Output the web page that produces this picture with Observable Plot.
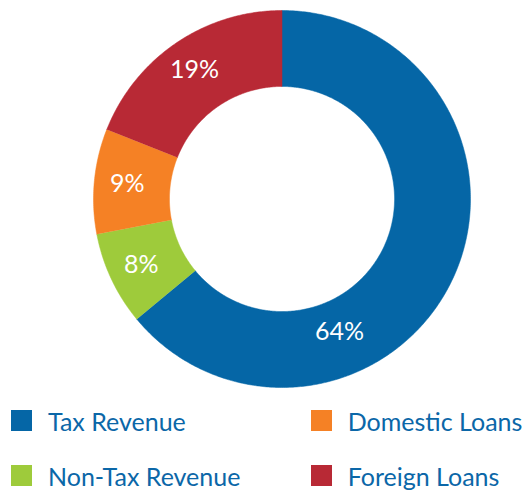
<!DOCTYPE html>
<html>
<head>
<meta charset="utf-8">
<script src="https://cdn.jsdelivr.net/npm/d3@7"></script>
<script src="https://cdn.jsdelivr.net/npm/@observablehq/plot@0.6"></script>
<style>
  html, body { margin: 0; padding: 0; background: #fff; }
  #chart svg { display: block; }
  .legend {
    display: grid;
    grid-template-columns: 299.7px 1fr;
    grid-auto-rows: 55px;
    padding-left: 11px;
    font-family: Lato, "Open Sans", sans-serif;
    font-size: 25px;
    color: #0b67a8;
  }
  .legend .item { display: flex; align-items: center; white-space: nowrap; }
  .legend .sw { width: 21px; height: 21px; margin-right: 16px; flex: none; }
</style>
</head>
<body>
<div id="chart"></div>
<script>
// ---- data ----
const categories = ["Tax Revenue", "Non-Tax Revenue", "Domestic Loans", "Foreign Loans"];
const shares = [64, 8, 9, 19];
const shareLabels = ["64%", "8%", "9%", "19%"];
const colors = ["#0566a6", "#9ecb3b", "#f58125", "#b82935"];
const legendOrder = ["Tax Revenue", "Domestic Loans", "Non-Tax Revenue", "Foreign Loans"];

// ---- geometry (unit circle, y up) ----
const innerR = 0.597;
const pie = d3.pie().sort(null).value(d => d)(shares);

const ringPoints = [];
pie.forEach((s, i) => {
  const n = Math.max(8, Math.ceil((s.endAngle - s.startAngle) / 0.01));
  const outer = d3.range(n + 1).map(k => s.startAngle + (s.endAngle - s.startAngle) * k / n);
  outer.forEach(a => ringPoints.push({cat: categories[i], x: Math.sin(a), y: Math.cos(a)}));
  outer.slice().reverse().forEach(a => ringPoints.push({cat: categories[i], x: innerR * Math.sin(a), y: innerR * Math.cos(a)}));
});

const labelPts = pie.map((s, i) => {
  const frac = i === 0 ? 0.68 : 0.5;
  const r = i === 0 ? 0.77 : 0.825;
  const a = s.startAngle + (s.endAngle - s.startAngle) * frac;
  return {label: shareLabels[i], x: r * Math.sin(a), y: r * Math.cos(a)};
});

const plot = Plot.plot({
  width: 528,
  height: 393,
  margin: 0,
  x: {domain: [-1, 1], range: [93, 470], axis: null},
  y: {domain: [-1, 1], range: [387, 10], axis: null},
  color: {domain: categories, range: colors},
  marks: [
    Plot.line(ringPoints, {x: "x", y: "y", z: "cat", fill: "cat", stroke: "cat", strokeWidth: 0.5, curve: "linear"}),
    Plot.text(labelPts, {x: "x", y: "y", text: "label", fill: "white", fontSize: 25, fontFamily: "Lato, sans-serif", textAnchor: "middle", lineAnchor: "middle"})
  ]
});

document.getElementById("chart").appendChild(plot);

const colorScale = plot.scale("color");
const colorOf = c => colors[colorScale.domain.indexOf(c)];
const legend = document.createElement("div");
legend.className = "legend";
legendOrder.forEach(c => {
  const item = document.createElement("div");
  item.className = "item";
  const sw = document.createElement("span");
  sw.className = "sw";
  sw.style.background = colorOf(c);
  const t = document.createElement("span");
  t.textContent = c;
  item.appendChild(sw);
  item.appendChild(t);
  legend.appendChild(item);
});
document.getElementById("chart").appendChild(legend);
</script>
</body>
</html>
